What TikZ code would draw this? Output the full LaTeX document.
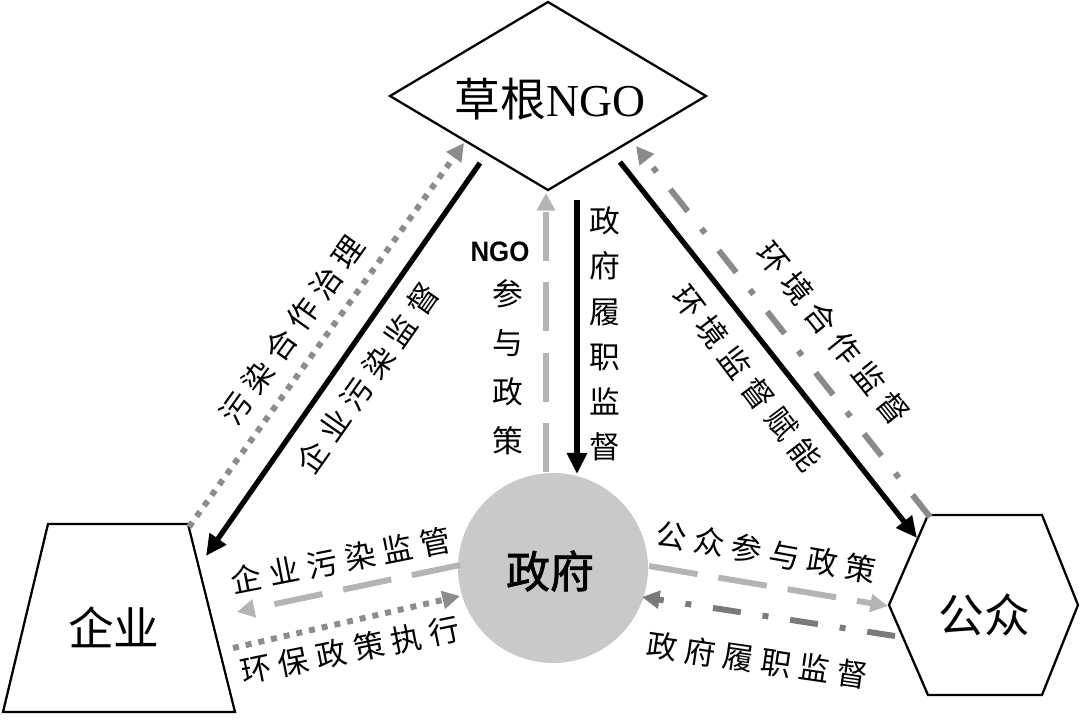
\documentclass[tikz,border=0pt]{standalone}
\usepackage{fontspec}
\usetikzlibrary{arrows.meta}
\newfontfamily\cjk{Noto Sans CJK SC}
\newfontfamily\cjksp[LetterSpace=25]{Noto Sans CJK SC}
\newfontfamily\cjkb[FakeBold=1.5]{Noto Sans CJK SC}
\newfontfamily\ser{Liberation Serif}
\newfontfamily\lsans{Liberation Sans}
\definecolor{dotgray}{HTML}{8C8C8C}
\definecolor{lightg}{HTML}{B4B4B4}
\definecolor{dashg}{HTML}{8A8A8A}
\definecolor{dashgd}{HTML}{7A7A7A}
\definecolor{circfill}{HTML}{C9C9C9}
\begin{document}
\begin{tikzpicture}[x=0.02cm,y=-0.02cm,
  shp/.style={draw=black,line width=1.3pt,fill=white,line join=miter},
  big/.style={font=\cjk\fontsize{26}{30}\selectfont,inner sep=0pt},
  lbl/.style={font=\cjksp\fontsize{17.5}{20}\selectfont,inner sep=0pt},
  vlbl/.style={font=\cjk\fontsize{17.5}{25.7}\selectfont,align=center,inner sep=0pt},
  blk/.style={line width=3pt,draw=black,-{Triangle[length=12pt,width=11pt]}},
  dotl/.style={line width=3.4pt,draw=dotgray,dash pattern=on 3.4pt off 4pt,-{Triangle[length=10pt,width=10pt]}},
  lgdash/.style={line width=3.4pt,draw=lightg,dash pattern=on 28pt off 12pt,-{Triangle[length=10pt,width=10pt]}},
  dashdot/.style={line width=3.4pt,dash pattern=on 16pt off 12.5pt on 3.4pt off 12.5pt,-{Triangle[length=10pt,width=10pt]}}
]
\useasboundingbox (0,0) rectangle (1080,721);

% shapes
\draw[shp] (390,96) -- (548,2) -- (706,96) -- (548,190) -- cycle;
\draw[shp] (48,524) -- (188,524) -- (235,712) -- (3,712) -- cycle;
\draw[shp] (928,515) -- (1042,515) -- (1078,605) -- (1042,695) -- (928,695) -- (889,605) -- cycle;
\fill[circfill] (553,568) circle (95);

\node[big] (ngo) at (550,99) {草根{\ser NGO}};
\node[big] (qy) at (114,627) {企业};
\node[big] (gz) at (984,615) {公众};
\node[font=\cjkb\fontsize{25}{28}\selectfont,inner sep=0pt] (zf) at (550,571) {政府};

% connector end points
\coordinate (a1s) at (189,527); \coordinate (a1e) at (464,143);
\coordinate (a2s) at (480,163); \coordinate (a2e) at (206,556);
\coordinate (a3s) at (546,472); \coordinate (a3e) at (546,193);
\coordinate (a4s) at (577,200); \coordinate (a4e) at (577,474);
\coordinate (a5s) at (620,162); \coordinate (a5e) at (917,538);
\coordinate (a6s) at (930,517); \coordinate (a6e) at (636,146);
\coordinate (a7s) at (460,565); \coordinate (a7e) at (237,612);
\coordinate (a8s) at (233,648); \coordinate (a8e) at (460,596);
\coordinate (a9s) at (649,566); \coordinate (a9e) at (888,606);
\coordinate (a10s) at (895,636); \coordinate (a10e) at (642,597);

% connectors
\draw[dotl] (a1s) -- (a1e);
\draw[blk] (a2s) -- (a2e);
\draw[lgdash] (a3s) -- (a3e);
\draw[blk] (a4s) -- (a4e);
\draw[blk] (a5s) -- (a5e);
\draw[dashdot,draw=dashg] (a6s) -- (a6e);
\draw[lgdash] (a7s) -- (a7e);
\draw[dotl] (a8s) -- (a8e);
\draw[lgdash] (a9s) -- (a9e);
\draw[dashdot,draw=dashgd] (a10s) -- (a10e);

% labels
\node[lbl,rotate=54.3] (l1) at (292,330) {污染合作治理};
\node[lbl,rotate=55] (l2) at (368,378) {企业污染监督};
\node[lbl,rotate=-51.2] (l3) at (833,333) {环境合作监督};
\node[lbl,rotate=-52.8] (l4) at (747,378) {环境监督赋能};
\node[lbl,rotate=11.1] (l5) at (341,560) {企业污染监管};
\node[lbl,rotate=11.5] (l6) at (350,650) {环保政策执行};
\node[lbl,rotate=-10] (l7) at (766,552) {公众参与政策};
\node[lbl,rotate=-8.3] (l8) at (757,660) {政府履职监督};
\node[font=\lsans\bfseries\fontsize{16}{18}\selectfont,inner sep=0pt,xscale=0.92] (v1a) at (500,252) {NGO};
\node[vlbl,font=\cjk\fontsize{17.5}{27.8}\selectfont] (v1) at (508,367) {参\\与\\政\\策};
\node[vlbl] (v2) at (605,334) {政\\府\\履\\职\\监\\督};
\end{tikzpicture}
\end{document}
